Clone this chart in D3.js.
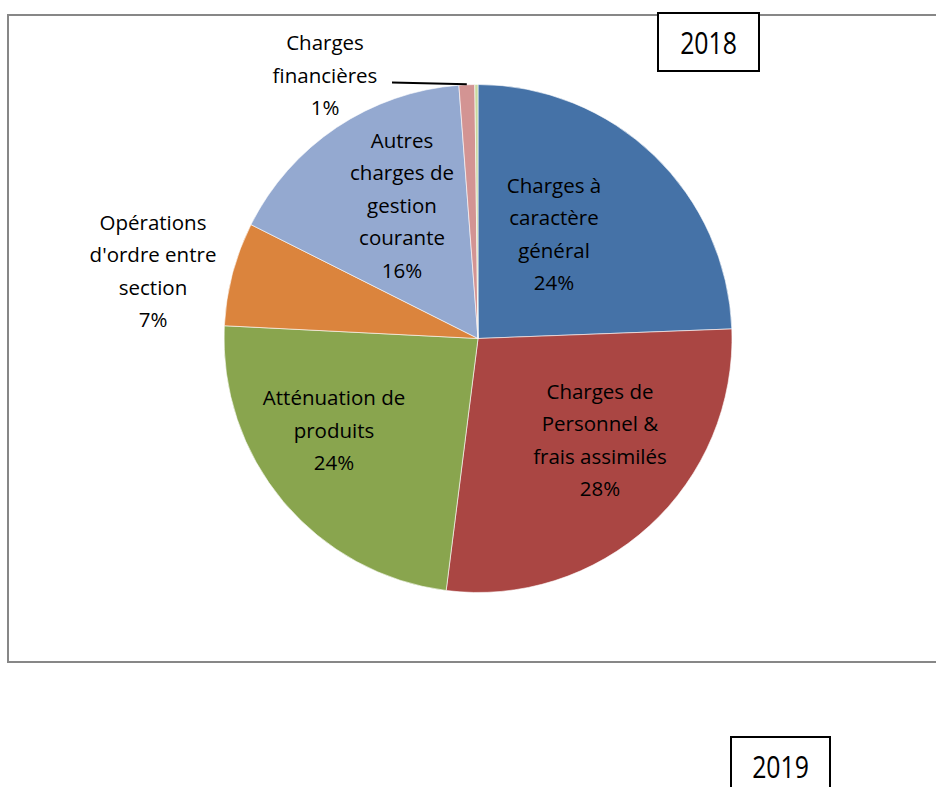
<!DOCTYPE html>
<html>
<head>
<meta charset="utf-8">
<script src="https://cdn.jsdelivr.net/npm/d3@7"></script>
<style>
  body { margin: 0; background: #fff; }
  svg { display: block; }
</style>
</head>
<body>
<div id="chart"></div>
<script>
(function() {
	// slices, clockwise from 12 o'clock
	var categories = [
		["Charges à", "caractère", "général"],
		["Charges de", "Personnel &", "frais assimilés"],
		["Atténuation de", "produits"],
		["Opérations", "d'ordre entre", "section"],
		["Autres", "charges de", "gestion", "courante"],
		["Charges", "financières"],
		["Autres"]
	];
	var values = [24.4, 27.6, 23.8, 6.6, 16.4, 1.0, 0.2];
	var colors = ["#4572a7", "#aa4643", "#89a54e", "#db843d", "#94a9d0", "#d39493", "#c9d99f"];
	var years = ["2018", "2019"];

	// label block centres, offset from the pie centre (null = no label)
	var labelOffsets = [[76, -104], [122, 102], [-144, 92], [-325, -67], [-76, -133], [-153, -263], null];

	var width = 936, height = 787;
	var cx = 478, cy = 338.5, radius = 254;
	var lineH = 32.5;

	var svg = d3.select("#chart").append("svg")
		.attr("width", width)
		.attr("height", height);

	// chart frame
	svg.append("rect")
		.attr("x", 8).attr("y", 15)
		.attr("width", 940).attr("height", 647)
		.attr("fill", "none")
		.attr("stroke", "#878787")
		.attr("stroke-width", 2);

	var pie = d3.pie().sort(null).value(function(d) { return d; });
	var arc = d3.arc().innerRadius(0).outerRadius(radius);
	var arcs = pie(values);

	var g = svg.append("g").attr("transform", "translate(" + cx + "," + cy + ")");

	g.selectAll("path")
		.data(arcs)
		.enter()
		.append("path")
		.attr("d", arc)
		.attr("fill", function(d, i) { return colors[i]; })
		.attr("stroke", "#fff")
		.attr("stroke-width", 0.6);

	var total = d3.sum(values);

	// leader line for the small slice
	var fin = arcs[5];
	var finMid = (fin.startAngle + fin.endAngle) / 2;
	g.append("line")
		.attr("x1", labelOffsets[5][0] + 67)
		.attr("y1", labelOffsets[5][1] + 7)
		.attr("x2", Math.sin(finMid) * (radius + 1))
		.attr("y2", -Math.cos(finMid) * (radius + 1) + 0.5)
		.attr("stroke", "#000")
		.attr("stroke-width", 2);

	var labels = g.selectAll("text.lbl")
		.data(arcs.filter(function(d, i) { return labelOffsets[i]; }))
		.enter()
		.append("text")
		.attr("class", "lbl")
		.attr("text-anchor", "middle")
		.attr("font-family", "'Open Sans', sans-serif")
		.attr("font-size", 20.5)
		.attr("fill", "#000");

	labels.each(function(d) {
		var i = d.index;
		var lines = categories[i].concat([Math.round(values[i] / total * 100) + "%"]);
		var off = labelOffsets[i];
		var top = off[1] - (lines.length - 1) * lineH / 2;
		d3.select(this).selectAll("tspan")
			.data(lines)
			.enter()
			.append("tspan")
			.attr("x", off[0])
			.attr("y", function(t, k) { return top + k * lineH; })
			.attr("dy", "0.35em")
			.text(function(t) { return t; });
	});

	// year boxes
	var boxes = [{ x: 658, y: 13, w: 101, h: 58 }, { x: 731, y: 737, w: 99, h: 60 }];
	boxes.forEach(function(b, i) {
		svg.append("rect")
			.attr("x", b.x).attr("y", b.y)
			.attr("width", b.w).attr("height", b.h)
			.attr("fill", "#fff")
			.attr("stroke", "#000")
			.attr("stroke-width", 2);
		svg.append("text")
			.attr("transform", "translate(" + (b.x + b.w / 2) + "," + (b.y + 30) + ") scale(0.8,1)")
			.attr("dy", "0.36em")
			.attr("text-anchor", "middle")
			.attr("font-family", "'Open Sans', sans-serif")
			.attr("font-size", 31)
			.attr("fill", "#000")
			.text(years[i]);
	});
})();
</script>
</body>
</html>
